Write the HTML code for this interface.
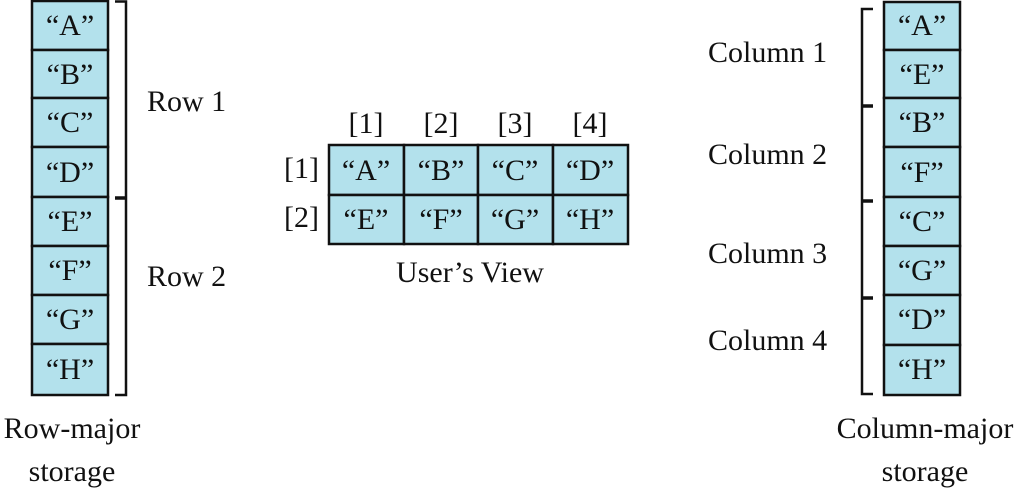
<!DOCTYPE html>
<html><head><style>
html,body{margin:0;padding:0;background:#fff;}
svg text{font-family:"Liberation Serif","Times New Roman",Times,serif;font-size:30px;fill:#111;}
</style></head><body>
<svg width="1017" height="493" viewBox="0 0 1017 493" xmlns="http://www.w3.org/2000/svg" font-family="Liberation Serif, serif">
<g stroke="#111" stroke-width="2.5" fill="#b3e1ec">
<rect x="32" y="1" width="76" height="49"/><rect x="32" y="50" width="76" height="48"/>
<rect x="32" y="98" width="76" height="49"/><rect x="32" y="147" width="76" height="50"/>
<rect x="32" y="197" width="76" height="49"/><rect x="32" y="246" width="76" height="49"/>
<rect x="32" y="295" width="76" height="49"/><rect x="32" y="344" width="76" height="51"/>
<rect x="884" y="2" width="76" height="48"/><rect x="884" y="50" width="76" height="48"/>
<rect x="884" y="98" width="76" height="49"/><rect x="884" y="147" width="76" height="50"/>
<rect x="884" y="197" width="76" height="49"/><rect x="884" y="246" width="76" height="49"/>
<rect x="884" y="295" width="76" height="50"/><rect x="884" y="345" width="76" height="50"/>
<rect x="329" y="145" width="75" height="50"/><rect x="404" y="145" width="74" height="50"/>
<rect x="478" y="145" width="75" height="50"/><rect x="553" y="145" width="75" height="50"/>
<rect x="329" y="195" width="75" height="49"/><rect x="404" y="195" width="74" height="49"/>
<rect x="478" y="195" width="75" height="49"/><rect x="553" y="195" width="75" height="49"/>
</g>
<g stroke="#111" stroke-width="2.5" fill="none">
<path d="M115 1.5 H126 V395 H115"/>
<path d="M115 198 H126" stroke-width="3.5"/>
<path d="M873 9 H862 V394 H873"/>
<path d="M862 106 H873 M862 201 H873 M862 298 H873" stroke-width="3.5"/>
</g>
<g text-anchor="middle">
<text x="70" y="35">“A”</text><text x="70" y="84">“B”</text><text x="70" y="132">“C”</text><text x="70" y="182">“D”</text>
<text x="70" y="231">“E”</text><text x="70" y="280">“F”</text><text x="70" y="329">“G”</text><text x="70" y="379">“H”</text>
<text x="922" y="35">“A”</text><text x="922" y="84">“E”</text><text x="922" y="132">“B”</text><text x="922" y="182">“F”</text>
<text x="922" y="231">“C”</text><text x="922" y="280">“G”</text><text x="922" y="329">“D”</text><text x="922" y="379">“H”</text>
<text x="366" y="180">“A”</text><text x="441" y="180">“B”</text><text x="515" y="180">“C”</text><text x="590" y="180">“D”</text>
<text x="366" y="229">“E”</text><text x="441" y="229">“F”</text><text x="515" y="229">“G”</text><text x="590" y="229">“H”</text>
<text x="366" y="133">[1]</text><text x="441" y="133">[2]</text><text x="515" y="133">[3]</text><text x="590" y="133">[4]</text>
<text x="470" y="282">User’s View</text>
<text x="72" y="438">Row-major</text><text x="72" y="481">storage</text>
<text x="925" y="438">Column-major</text><text x="925" y="481">storage</text>
</g>
<text x="284" y="178">[1]</text><text x="284" y="227">[2]</text>
<text x="147" y="111">Row 1</text><text x="147" y="286">Row 2</text>
<text x="708" y="62">Column 1</text><text x="708" y="164">Column 2</text>
<text x="708" y="263">Column 3</text><text x="708" y="350">Column 4</text>
</svg>
</body></html>
